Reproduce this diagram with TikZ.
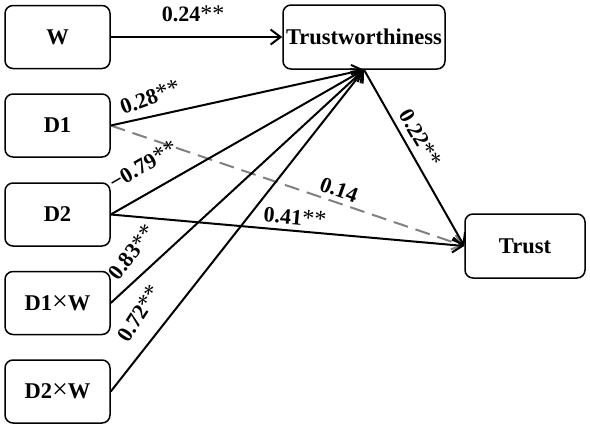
\documentclass[tikz,border=0pt]{standalone}
\usepackage{fontspec}
\setmainfont{Liberation Serif}
\usetikzlibrary{arrows.meta}
\newcommand{\bigtimes}{{\mdseries\fontsize{28}{28}\selectfont ×}}
\newcommand{\stars}{{\mdseries\fontsize{24}{26}\selectfont **}}
\begin{document}
\begin{tikzpicture}[x=1pt,y=-1pt,
  box/.style={draw,line width=1.5pt,rounded corners=8pt,inner sep=0pt,font=\fontsize{22.5}{26}\selectfont\bfseries},
  src/.style={box,minimum width=105pt,minimum height=63pt},
  link/.style={line width=2pt,-{Straight Barb[length=10pt,width=15pt,line width=2pt]}},
  dashlink/.style={link,gray,dash pattern=on 15pt off 8pt},
  coef/.style={font=\fontsize{22}{26}\selectfont\bfseries,inner sep=0pt}]
\useasboundingbox (0,0) rectangle (590,429);
\node[src] (W) at (57.5,37) {W};
\node[src] (D1) at (57.5,125.5) {D1};
\node[src] (D2) at (57.5,214.5) {D2};
\node[src] (D1W) at (57.5,303) {D1\bigtimes W};
\node[src] (D2W) at (57.5,391.5) {D2\bigtimes W};
\node[box,minimum width=162pt,minimum height=64pt] (TW) at (364,37) {Trustworthiness};
\node[box,minimum width=120pt,minimum height=64pt] (T) at (525,246) {Trust};

\draw[link] (W) -- (TW);
\draw[dashlink] (D1.east) -- (T.west);
\draw[link] (D1.east) -- (TW.south);
\draw[link] (D2.east) -- (TW.south);
\draw[link] (D1W.east) -- (TW.south);
\draw[link] (D2W.east) -- (TW.south);
\draw[link] (D2.east) -- (T.west);
\draw[link] (TW.south) -- (T.west);

\node[coef] (c1) at (193,14) {0.24\stars};
\node[coef,rotate=20] (c2) at (150,97) {0.28\stars};
\node[coef,rotate=30] (c3) at (143,165) {−0.79\stars};
\node[coef,rotate=52] (c4) at (132,252) {0.83\stars};
\node[coef,rotate=57] (c5) at (139,313) {0.72\stars};
\node[coef,rotate=-60] (c6) at (421,138) {0.22\stars};
\node[coef,rotate=-20] (c7) at (339,190) {0.14};
\node[coef,rotate=-5] (c8) at (295,217) {0.41\stars};
\end{tikzpicture}
\end{document}
